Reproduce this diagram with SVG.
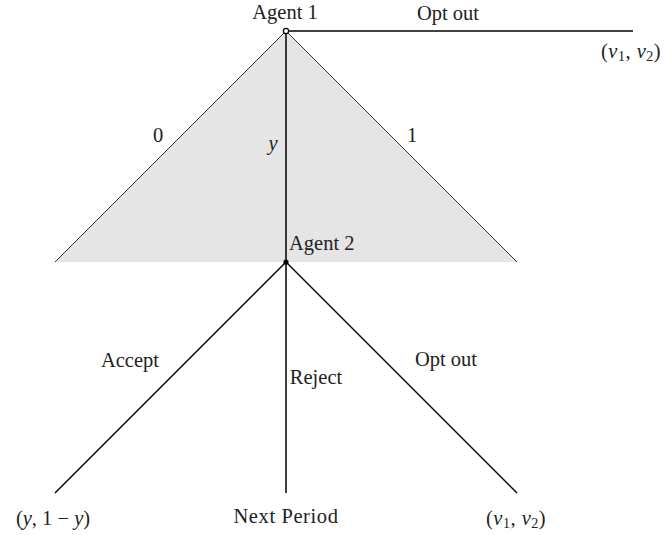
<svg xmlns="http://www.w3.org/2000/svg" width="665" height="535" viewBox="0 0 665 535">
<style>
text{font-family:"Liberation Serif","DejaVu Serif",serif;font-size:20.5px;fill:#222}
.i{font-style:italic}
.e{stroke:#000;stroke-width:1.5;fill:none}
</style>
<rect width="665" height="535" fill="#fff"/>
<g id="region">
<polygon points="286,31 55,262 517,262" fill="#e5e5e5" stroke="none"/>
<polyline points="55,262 286,31 517,262" fill="none" stroke="#333" stroke-width="1"/>
</g>
<g id="connectors">
<line class="e" x1="286" y1="31" x2="633" y2="31"/>
<line class="e" x1="286" y1="31" x2="286" y2="262"/>
<line class="e" x1="286" y1="262" x2="55" y2="493"/>
<line class="e" x1="286" y1="262" x2="286" y2="493"/>
<line class="e" x1="286" y1="262" x2="517" y2="493"/>
</g>
<g id="agent1">
<circle cx="286" cy="31" r="2.6" fill="#fff" stroke="#000" stroke-width="1.2"/>
<text x="285" y="19" text-anchor="middle">Agent 1</text>
</g>
<g id="agent2">
<circle cx="286" cy="262" r="2.6" fill="#000"/>
<text x="289" y="250">Agent 2</text>
</g>
<g id="labels">
<text x="448" y="20" text-anchor="middle">Opt out</text>
<text x="631" y="58" text-anchor="middle" letter-spacing="0.5"><tspan>(</tspan><tspan class="i">v</tspan><tspan font-size="14" dy="3">1</tspan><tspan dy="-3">, </tspan><tspan class="i">v</tspan><tspan font-size="14" dy="3">2</tspan><tspan dy="-3">)</tspan></text>
<text x="158" y="142" text-anchor="middle">0</text>
<text x="273" y="150" text-anchor="middle" class="i">y</text>
<text x="412" y="142" text-anchor="middle">1</text>
<text x="130" y="367" text-anchor="middle">Accept</text>
<text x="316" y="384" text-anchor="middle">Reject</text>
<text x="446" y="366" text-anchor="middle">Opt out</text>
<text x="53" y="525" text-anchor="middle">(<tspan class="i">y</tspan>, 1 − <tspan class="i">y</tspan>)</text>
<text x="286" y="523" text-anchor="middle" letter-spacing="0.6">Next Period</text>
<text x="516" y="525" text-anchor="middle" letter-spacing="0.5"><tspan>(</tspan><tspan class="i">v</tspan><tspan font-size="14" dy="3">1</tspan><tspan dy="-3">, </tspan><tspan class="i">v</tspan><tspan font-size="14" dy="3">2</tspan><tspan dy="-3">)</tspan></text>
</g>
</svg>
